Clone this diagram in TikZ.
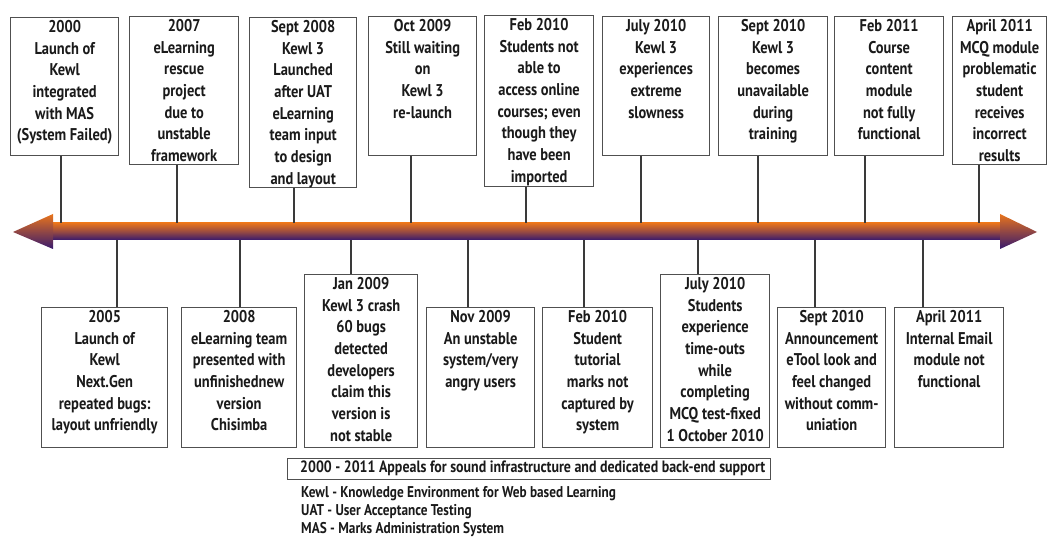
\documentclass[tikz,border=0pt]{standalone}
\usepackage{fontspec}
\setmainfont{PT Sans}[FakeStretch=0.85]
\definecolor{boxgray}{HTML}{505050}
\definecolor{linegray}{HTML}{3A3A3A}
\definecolor{txt}{HTML}{1A1A1A}
\definecolor{arrowor}{HTML}{E8741C}
\definecolor{arrowpu}{HTML}{38196E}
\newcommand\evbox[6]{%
  \node[evframe, minimum width={#4-#2}, minimum height={#5-#3}] (#1) at (#2,#3) {};
  \node[evlabel] (#1l) at ([yshift=-3pt]#1.north) {#6};
}
\begin{document}
\begin{tikzpicture}[x=1pt,y=-1pt,
  evframe/.style={draw=boxgray, line width=1.3pt, fill=white, inner sep=0pt, anchor=north west},
  evlabel/.style={anchor=north, align=center, inner sep=0pt, text=txt,
    font=\bfseries\fontsize{17}{21.7}\selectfont},
  conn/.style={draw=linegray, line width=1.3pt},
  smalltext/.style={text=txt, inner sep=0pt, font=\bfseries\fontsize{15.6}{18}\selectfont}
]
\useasboundingbox (0,0) rectangle (1049,537);
% timeline arrow
\shade[top color=arrowor, bottom color=arrowpu, middle color=arrowor!55!arrowpu] (52,223) rectangle (1001,240);
\shade[top color=arrowor, bottom color=arrowpu] (13,232) -- (53,214) -- (53,249) -- cycle;
\shade[top color=arrowor, bottom color=arrowpu] (1037,232) -- (1000,214) -- (1000,249) -- cycle;
% top boxes
\evbox{t1}{10}{17}{118}{155}{2000\\Launch of\\Kewl\\integrated\\with MAS\\(System Failed)}
\evbox{t2}{129}{16}{238}{164}{2007\\eLearning\\rescue\\project\\due to\\unstable\\framework}
\evbox{t3}{249}{17}{356}{187}{Sept 2008\\Kewl 3\\Launched\\after UAT\\eLearning\\team input\\to design\\and layout}
\evbox{t4}{368}{16}{476}{155}{Oct 2009\\Still waiting\\on\\Kewl 3\\re-launch}
\evbox{t5}{484}{15}{593}{186}{Feb 2010\\Students not\\able to\\access online\\courses; even\\though they\\have been\\imported}
\evbox{t6}{602}{16}{709}{155}{July 2010\\Kewl 3\\experiences\\extreme\\slowness}
\evbox{t7}{718}{16}{827}{155}{Sept 2010\\Kewl 3\\becomes\\unavailable\\during\\training}
\evbox{t8}{834}{16}{943}{155}{Feb 2011\\Course\\content\\module\\not fully\\functional}
\evbox{t9}{952}{16}{1046}{164}{April 2011\\MCQ module\\problematic\\student\\receives\\incorrect\\results}
% bottom boxes
\evbox{b1}{41}{307}{167}{447}{2005\\Launch of\\Kewl\\Next.Gen\\repeated bugs:\\layout unfriendly}
\evbox{b2}{181}{307}{296}{447}{2008\\eLearning team\\presented with\\unfinishednew\\version\\Chisimba}
\evbox{b3}{304}{274}{417}{447}{Jan 2009\\Kewl 3 crash\\60 bugs\\detected\\developers\\claim this\\version is\\not stable}
\evbox{b4}{426}{307}{534}{447}{Nov 2009\\An unstable\\system/very\\angry users}
\evbox{b5}{542}{307}{652}{447}{Feb 2010\\Student\\tutorial\\marks not\\captured by\\system}
\evbox{b6}{660}{274}{769}{447}{July 2010\\Students\\experience\\time-outs\\while\\completing\\MCQ test-fixed\\1 October 2010}
\evbox{b7}{777}{307}{885}{447}{Sept 2010\\Announcement\\eTool look and\\feel changed\\without comm-\\uniation}
\evbox{b8}{894}{307}{1003}{447}{April 2011\\Internal Email\\module not\\functional}
% connector end points on the timeline
\coordinate (ct1) at (61,223);
\coordinate (ct2) at (177,223);
\coordinate (ct3) at (294,223);
\coordinate (ct4) at (411,223);
\coordinate (ct5) at (526,223);
\coordinate (ct6) at (641,223);
\coordinate (ct7) at (758,223);
\coordinate (ct8) at (865,223);
\coordinate (ct9) at (979,223);
\coordinate (cb1) at (117,240);
\coordinate (cb2) at (240,240);
\coordinate (cb3) at (351,240);
\coordinate (cb4) at (468,240);
\coordinate (cb5) at (584,240);
\coordinate (cb6) at (698,240);
\coordinate (cb7) at (815,240);
\coordinate (cb8) at (923,240);
\foreach \i in {1,...,9} { \draw[conn] (t\i.south -| ct\i) -- (ct\i); }
\foreach \i in {1,...,8} { \draw[conn] (b\i.north -| cb\i) -- (cb\i); }
% banner and legend
\node[evframe, line width=1pt, minimum width=483, minimum height=21] (banner) at (287,458) {};
\node[smalltext, anchor=west, font=\bfseries\fontsize{16.4}{18}\selectfont] (bannertext) at (300,468.5) {2000 - 2011 Appeals for sound infrastructure and dedicated back-end support};
\node[smalltext, anchor=north west, align=left] (legend) at (301,486) {Kewl - Knowledge Environment for Web based Learning\\UAT - User Acceptance Testing\\MAS - Marks Administration System};
\end{tikzpicture}
\end{document}
